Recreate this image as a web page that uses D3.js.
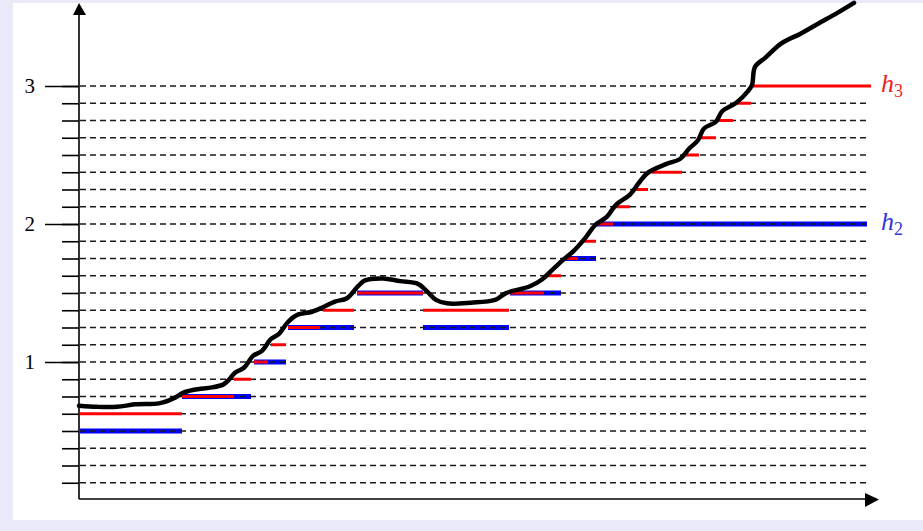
<!DOCTYPE html>
<html><head><meta charset="utf-8">
<script src="https://cdn.jsdelivr.net/npm/d3@7"></script>
<style>body{margin:0;background:#fff;overflow:hidden}</style>
</head><body><svg id="c" width="923" height="531"></svg>
<script>
// ---- data ----
const gridLevels = d3.range(1, 25).map(i => i * 0.125);
const majorTicks = [1, 2, 3];
const tickLabels = ["1", "2", "3"];

// curve: time position and value
const curveT = [0, 18, 38, 56, 80, 91, 99, 103, 115, 133, 144, 150, 156, 165, 174, 183, 192, 200, 209, 218, 233, 245, 256, 268, 279, 286, 304, 321, 339, 348, 357, 368, 392, 416, 427, 451, 463, 472, 483, 495, 507, 516, 528, 537, 551, 560, 569, 587, 601, 610, 619, 625, 637, 643, 657, 669, 673, 676, 687, 702, 722, 740, 758, 775];
const curveV = [0.683, 0.675, 0.675, 0.693, 0.70, 0.725, 0.754, 0.774, 0.799, 0.816, 0.836, 0.872, 0.922, 0.958, 1.044, 1.081, 1.167, 1.204, 1.29, 1.34, 1.364, 1.40, 1.438, 1.462, 1.549, 1.591, 1.605, 1.586, 1.566, 1.512, 1.45, 1.425, 1.43, 1.45, 1.499, 1.549, 1.598, 1.659, 1.733, 1.807, 1.905, 1.991, 2.053, 2.139, 2.213, 2.299, 2.372, 2.434, 2.471, 2.545, 2.607, 2.692, 2.741, 2.815, 2.877, 2.963, 3.007, 3.138, 3.209, 3.307, 3.381, 3.455, 3.528, 3.602];

// h3 segments (level, start, end)
const redLevel = [0.625, 0.75, 0.875, 1.0, 1.125, 1.25, 1.375, 1.5, 1.375, 1.5, 1.625, 1.75, 1.875, 2.0, 2.125, 2.25, 2.375, 2.5, 2.625, 2.75, 2.875, 3.0];
const redStart = [1, 103, 155, 175, 192, 209, 244, 278, 344, 431, 468, 486, 502, 517, 536, 554, 573, 604, 621, 638, 657, 674];
const redEnd   = [103, 155, 172, 189, 207, 241, 275, 344, 430, 465, 482, 499, 517, 534, 551, 569, 603, 620, 637, 654, 672, 792];

// h2 segments (level, start, end)
const blueLevel = [0.5, 0.75, 1.0, 1.25, 1.5, 1.25, 1.5, 1.75, 2.0];
const blueStart = [1, 103, 175, 209, 278, 344, 431, 486, 517];
const blueEnd   = [103, 172, 207, 275, 344, 430, 482, 517, 788];

const seriesNames = ["h", "h"];
const seriesSubs = ["3", "2"];
const seriesLevels = [3, 2];

// ---- drawing ----
const svg = d3.select("#c");
const x = d3.scaleLinear().domain([0, 800]).range([79, 879]);
const y = d3.scaleLinear().domain([0, 3]).range([500, 86]);
const serif = "'Liberation Serif', 'Times New Roman', serif";

svg.append("rect").attr("width", 923).attr("height", 531).attr("fill", "#e9e9fa");
svg.append("rect").attr("x", 13).attr("y", 3).attr("width", 910).attr("height", 517).attr("fill", "#ffffff");

// blue segments
svg.append("g").selectAll("line").data(blueLevel).join("line")
  .attr("x1", (d, i) => x(blueStart[i])).attr("x2", (d, i) => x(blueEnd[i]))
  .attr("y1", d => y(d)).attr("y2", d => y(d))
  .attr("stroke", "#0000ff").attr("stroke-width", 5);

// dashed grid
svg.append("g").selectAll("line").data(gridLevels).join("line")
  .attr("x1", x(1)).attr("x2", 867)
  .attr("y1", d => y(d)).attr("y2", d => y(d))
  .attr("stroke", "#1a1a1a").attr("stroke-width", 1.5).attr("stroke-dasharray", "6,4");

// red segments
svg.append("g").selectAll("line").data(redLevel).join("line")
  .attr("x1", (d, i) => x(redStart[i])).attr("x2", (d, i) => x(redEnd[i]))
  .attr("y1", d => y(d)).attr("y2", d => y(d))
  .attr("stroke", "#ff0000").attr("stroke-width", 3);

// curve
const pts = curveT.map((t, i) => [t, curveV[i]]);
svg.append("path").datum(pts)
  .attr("d", d3.line().x(d => x(d[0])).y(d => y(d[1])).curve(d3.curveCatmullRom.alpha(0.5)))
  .attr("fill", "none").attr("stroke", "#000").attr("stroke-width", 4.5)
  .attr("stroke-linejoin", "round").attr("stroke-linecap", "round");

// y axis minor ticks
const minorAxis = d3.axisLeft(y).tickValues(gridLevels).tickSize(17).tickFormat("");
const gMin = svg.append("g").attr("transform", "translate(79,0)").call(minorAxis);
gMin.select(".domain").remove();
gMin.selectAll(".tick line").attr("stroke", "#000").attr("stroke-width", 1.6);

// y axis major ticks
const majorAxis = d3.axisLeft(y).tickValues(majorTicks).tickSize(34).tickFormat("");
const gMaj = svg.append("g").attr("transform", "translate(79,0)").call(majorAxis);
gMaj.select(".domain").remove();
gMaj.selectAll(".tick line").attr("stroke", "#000").attr("stroke-width", 1.6);

// tick labels
svg.append("g").selectAll("text").data(majorTicks).join("text")
  .attr("x", 35).attr("y", d => y(d) + 7)
  .attr("text-anchor", "end")
  .attr("font-family", serif).attr("font-size", 21).attr("fill", "#000")
  .text((d, i) => tickLabels[i]);

// axes lines with arrows
svg.append("line").attr("x1", 79).attr("x2", 79).attr("y1", 499).attr("y2", 12)
  .attr("stroke", "#000").attr("stroke-width", 1.6);
svg.append("path").attr("d", "M79,3 L73,15 L86,15 Z").attr("fill", "#000");
svg.append("line").attr("x1", 79).attr("x2", 868).attr("y1", 499).attr("y2", 499)
  .attr("stroke", "#000").attr("stroke-width", 1.6);
svg.append("path").attr("d", "M879,499.5 L865,493 L865,507 Z").attr("fill", "#000");

// series labels
const labColors = ["#ee1c24", "#3535d8"];
seriesNames.forEach((n, i) => {
  const t = svg.append("text").attr("x", 881).attr("y", y(seriesLevels[i]) + 6)
    .attr("font-family", serif)
    .attr("font-size", 26).attr("fill", labColors[i]);
  t.append("tspan").attr("font-style", "italic").text(n);
  t.append("tspan").attr("font-size", 18).attr("dy", 5).text(seriesSubs[i]);
});
</script></body></html>
